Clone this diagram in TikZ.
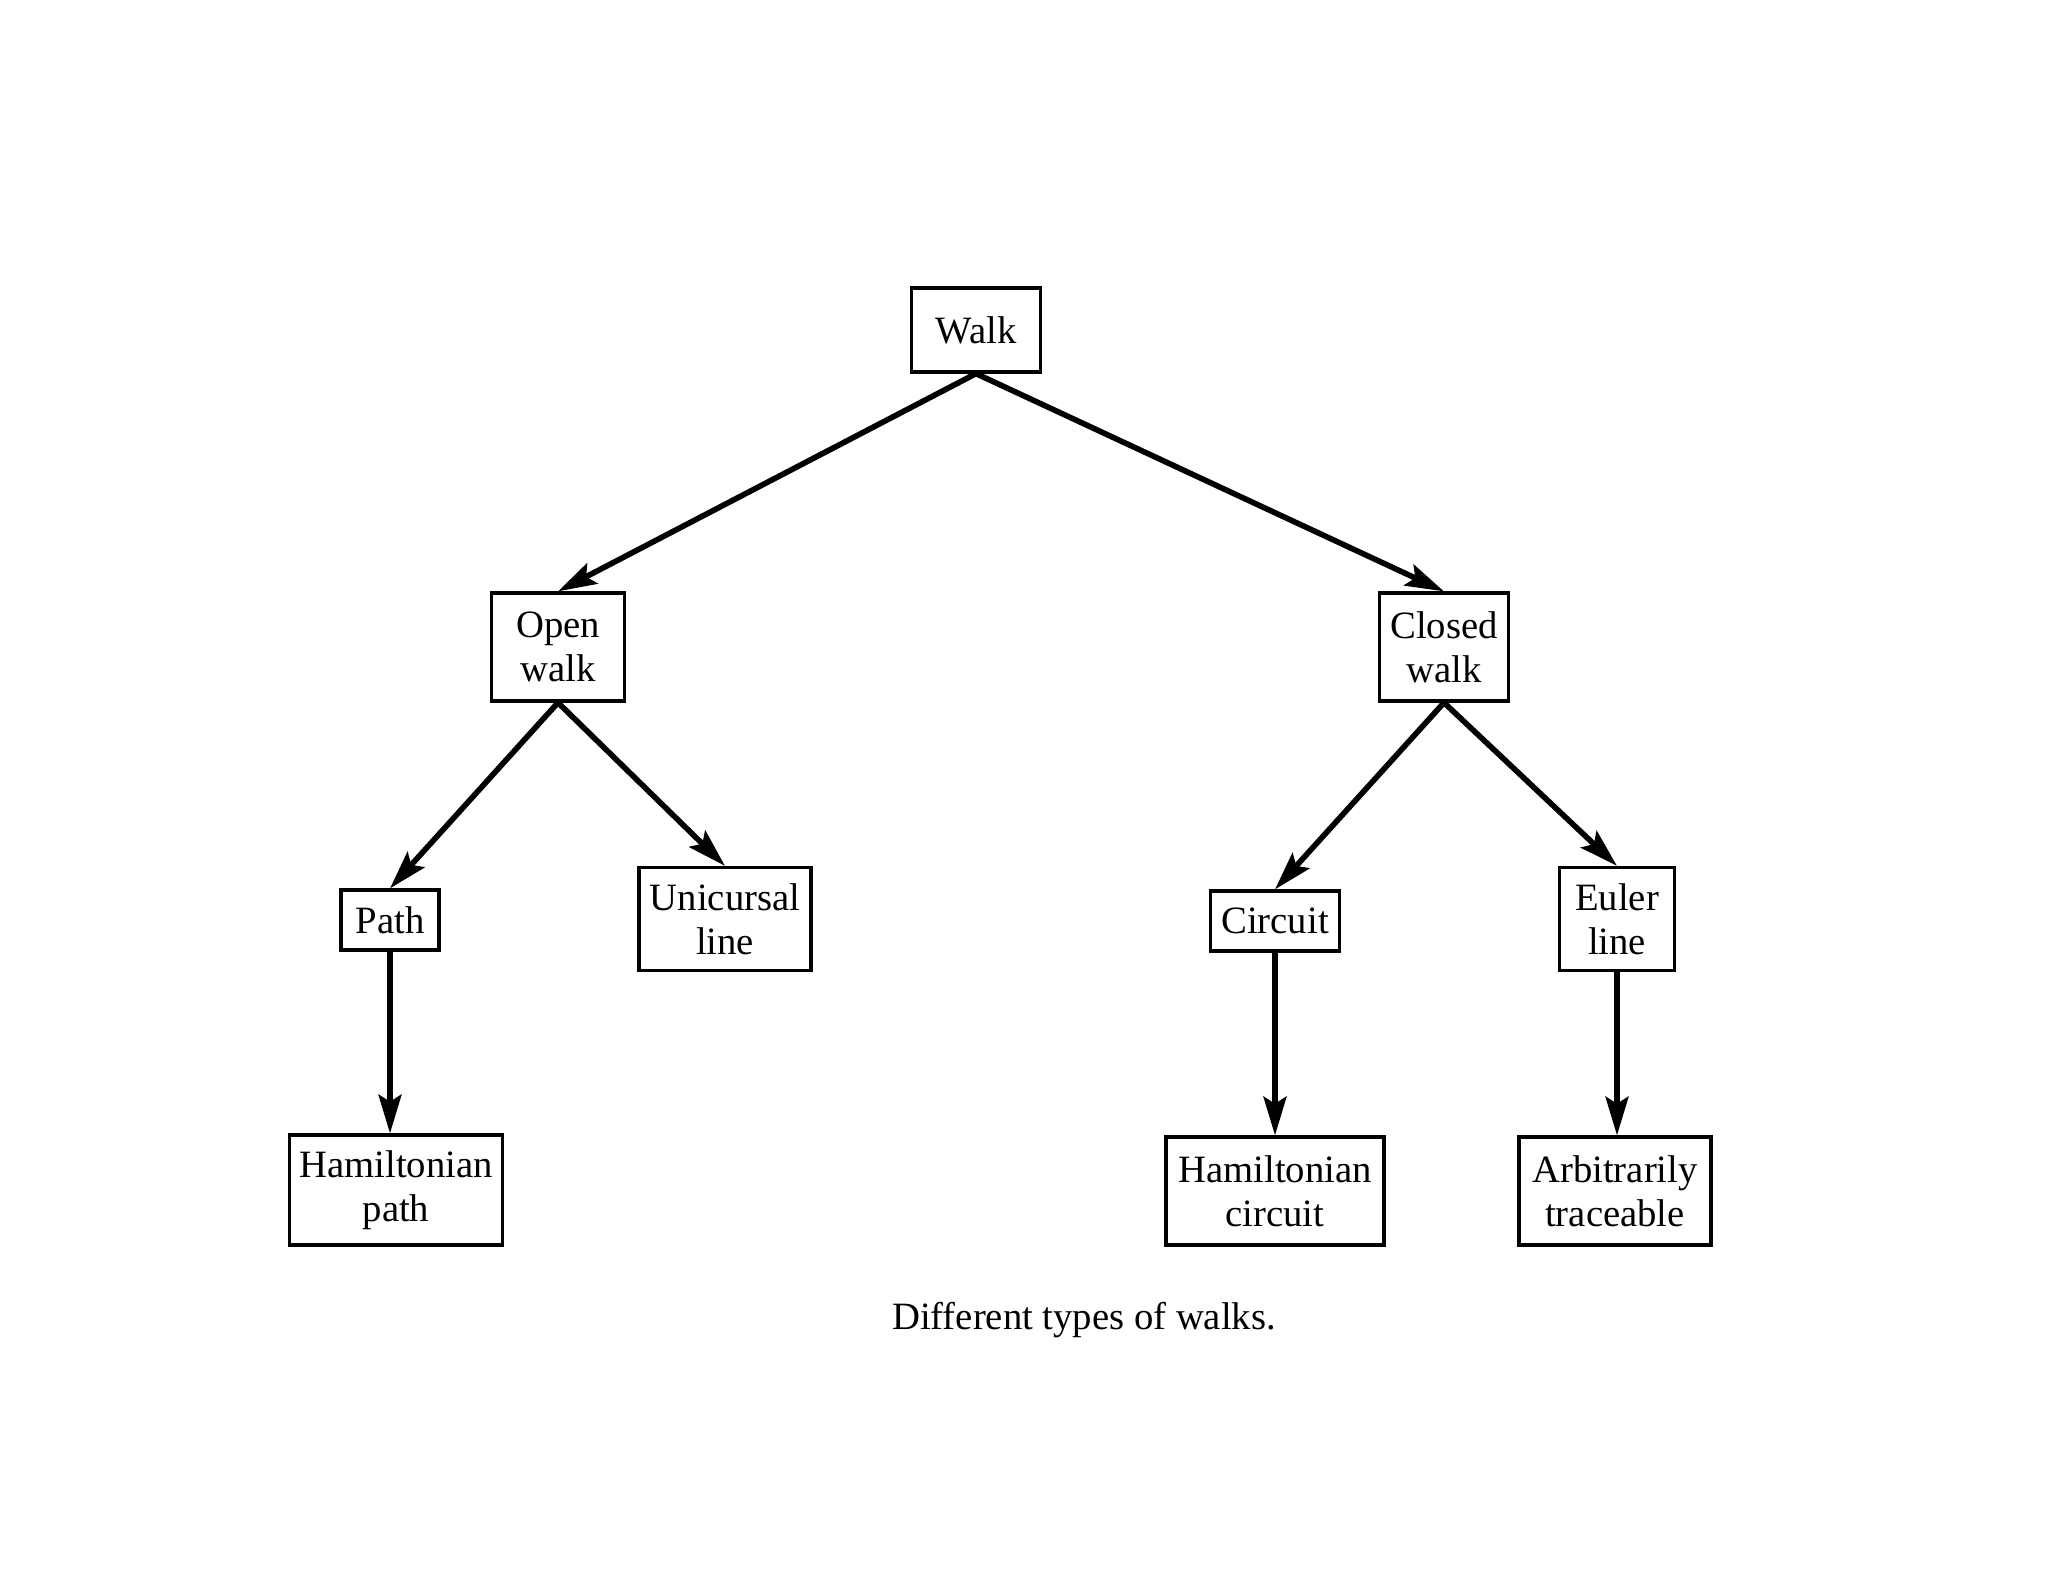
\documentclass[tikz,border=0pt]{standalone}
\usepackage{fontspec}
\setmainfont{Liberation Serif}
\usetikzlibrary{arrows.meta}
\begin{document}
\begin{tikzpicture}[x=0.01cm, y=-0.01cm, >={Stealth[length=11pt,width=6.5pt,inset=2pt]},
  box/.style={draw, line width=0.9pt, align=center, inner sep=2pt, font=\fontsize{11}{12.5}\selectfont},
  link/.style={->, line width=1.6pt}]
\useasboundingbox (0,0) rectangle (2048,1582);
\node[box, minimum width=1.29cm, minimum height=0.84cm] (walk) at (976,330) {Walk};
\node[box, minimum width=1.33cm, minimum height=1.08cm] (open) at (558,647) {Open\\walk};
\node[box, minimum width=1.29cm, minimum height=1.08cm] (closed) at (1444,647) {Closed\\walk};
\node[box, minimum width=0.98cm, minimum height=0.60cm] (path) at (390,920) {Path};
\node[box, minimum width=1.72cm, minimum height=1.03cm] (unic) at (725,919) {Unicursal\\line};
\node[box, minimum width=1.29cm, minimum height=0.60cm] (circ) at (1275,921) {Circuit};
\node[box, minimum width=1.15cm, minimum height=1.03cm] (euler) at (1617,919) {Euler\\line};
\node[box, minimum width=2.13cm, minimum height=1.10cm] (hpath) at (396,1190) {Hamiltonian\\path};
\node[box, minimum width=2.18cm, minimum height=1.08cm] (hcirc) at (1275,1191) {Hamiltonian\\circuit};
\node[box, minimum width=1.92cm, minimum height=1.08cm] (arb) at (1615,1191) {Arbitrarily\\traceable};
\node[font=\fontsize{11}{13}\selectfont] (cap) at (1084,1320) {Different types of walks.};
\draw[link] (walk.south) -- (open.north);
\draw[link] (walk.south) -- (closed.north);
\draw[link] (open.south) -- (path.north);
\draw[link] (open.south) -- (unic.north);
\draw[link] (closed.south) -- (circ.north);
\draw[link] (closed.south) -- (euler.north);
\draw[link] (path.south) -- (path.south |- hpath.north);
\draw[link] (circ.south) -- (hcirc.north);
\draw[link] (euler.south) -- (euler.south |- arb.north);
\end{tikzpicture}
\end{document}
